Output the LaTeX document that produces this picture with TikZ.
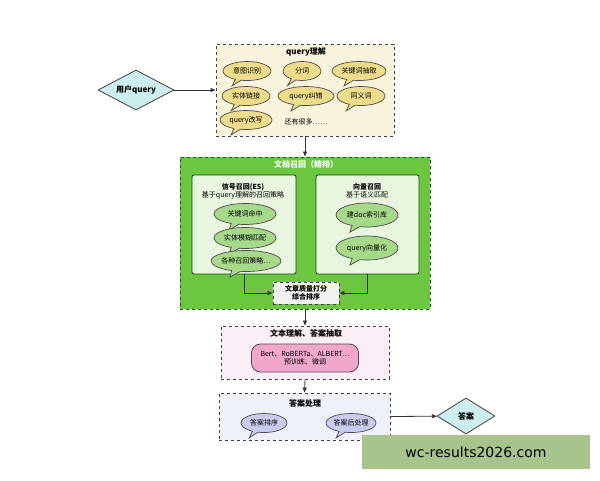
\documentclass[tikz,border=0pt]{standalone}
\usepackage{fontspec}
\setmainfont{Noto Sans CJK SC}
\newfontfamily\wmfont{DejaVu Sans}
\usetikzlibrary{shapes.geometric,shapes.callouts,arrows.meta}
\definecolor{ybox}{HTML}{F8F4DC}
\definecolor{yell}{HTML}{EEDC8A}
\definecolor{gbox}{HTML}{6CC640}
\definecolor{ginner}{HTML}{E9F6DF}
\definecolor{gell}{HTML}{A6D98A}
\definecolor{pbox}{HTML}{FBEEF6}
\definecolor{pnode}{HTML}{F2A6CC}
\definecolor{bbox}{HTML}{EFF1FA}
\definecolor{bell}{HTML}{CACBF0}
\definecolor{dia}{HTML}{CDEEEE}
\definecolor{wm}{HTML}{A7C48C}
\begin{document}
\begin{tikzpicture}[x=1pt,y=-1pt,font=\fontsize{7}{8}\selectfont,
  grp/.style={draw=black!75,dashed,line width=0.9pt},
  co/.style={ellipse callout,draw=black!70,line width=0.7pt,minimum width=#1,minimum height=19,inner sep=0pt,callout relative pointer={(-6,6)}},
  co/.default=48,
  arr/.style={-{Triangle[length=5,width=4]},line width=0.8pt,black!80},
  dm/.style={diamond,aspect=1.9,draw=black!75,fill=dia,line width=0.8pt,inner sep=1pt}]
\useasboundingbox (0,0) rectangle (600,480);
% query understanding
\node[grp,fill=ybox,minimum width=178,minimum height=92] (q) at (305,90) {};
\node[font=\fontsize{8}{9}\selectfont\bfseries] (qt) at (306,52) {query理解};
\node[co,fill=yell] (a1) at (247,71) {意图识别};
\node[co=38,fill=yell] (a2) at (302,71) {分词};
\node[co=54,fill=yell] (a3) at (359,71) {关键词抽取};
\node[co,fill=yell] (a4) at (246,96) {实体链接};
\node[co=56,fill=yell] (a5) at (306,96) {query纠错};
\node[co,fill=yell] (a6) at (361,96) {同义词};
\node[co=52,fill=yell] (a7) at (246,120) {query改写};
\node (a8) at (306,122) {还有很多……};
\node[dm,minimum width=76,minimum height=40,font=\fontsize{8}{9}\selectfont\bfseries] (u) at (136,90) {用户query};
\draw[arr] (u) -- (q.west);
% recall
\node[grp,draw=green!40!black,fill=gbox,minimum width=250,minimum height=152] (g) at (305,233) {};
\draw[arr] (q.south) -- (g.north);
\node[white,font=\fontsize{8}{9}\selectfont\bfseries] (gt) at (306,164) {文档召回（精排）};
\node[draw=green!30!black,fill=ginner,line width=0.8pt,rounded corners=2,minimum width=104,minimum height=99] (l) at (244,224.5) {};
\node[draw=green!30!black,fill=ginner,line width=0.8pt,rounded corners=2,minimum width=103,minimum height=99] (r) at (367.5,224.5) {};
\node[align=center] (lt) at (243,191) {\textbf{信号召回(ES)}\\基于query理解的召回策略};
\node[align=center] (rt) at (367,191) {\textbf{向量召回}\\基于语义匹配};
\node[co=62,fill=gell,minimum height=21] (b1) at (245,214) {关键词命中};
\node[co=62,fill=gell,minimum height=21] (b2) at (245,238) {实体模糊匹配};
\node[co=66,fill=gell,minimum height=21] (b3) at (246,261) {各种召回策略…};
\node[co=62,fill=gell,minimum height=24] (c1) at (367,215) {建doc索引库};
\node[co=62,fill=gell,minimum height=24] (c2) at (367,248) {query向量化};
\node[grp,fill=black!6,minimum width=66,minimum height=22,align=center,inner sep=1pt,font=\fontsize{7}{8}\selectfont\bfseries] (m) at (306,293) {文章质量打分\\综合排序};
\draw[arr] (l.south) |- (m.west);
\draw[arr] (r.south) |- (m.east);
% text understanding
\node[grp,fill=pbox,minimum width=168,minimum height=53] (p) at (305,352.5) {};
\draw[arr] (g.south) -- (p.north);
\node[font=\fontsize{8}{9}\selectfont\bfseries] (pt) at (306,333) {文本理解、答案抽取};
\node[draw=black!70,fill=pnode,rounded corners=9,line width=0.8pt,minimum width=107,minimum height=28,align=center,inner sep=1pt] (pn) at (305,358) {Bert、RoBERTa、ALBERT…\\预训练、微调};
% answer processing
\node[grp,fill=bbox,minimum width=171,minimum height=47] (ap) at (304.5,416.5) {};
\draw[arr] (p.south) -- (ap.north);
\node[font=\fontsize{8}{9}\selectfont\bfseries] (apt) at (305,403) {答案处理};
\node[co=46,fill=bell] (d1) at (264,423) {答案排序};
\node[co=50,fill=bell] (d2) at (351,423) {答案后处理};
\node[dm,minimum width=58,minimum height=36,font=\fontsize{8}{9}\selectfont\bfseries] (ans) at (466,416) {答案};
\draw[arr] (ap.east) -- (ans);
% watermark
\node[fill=wm,minimum width=228,minimum height=34,inner sep=0pt,font=\wmfont\fontsize{14}{16}\selectfont] (w) at (476,452) {wc-results2026.com};
\end{tikzpicture}
\end{document}
